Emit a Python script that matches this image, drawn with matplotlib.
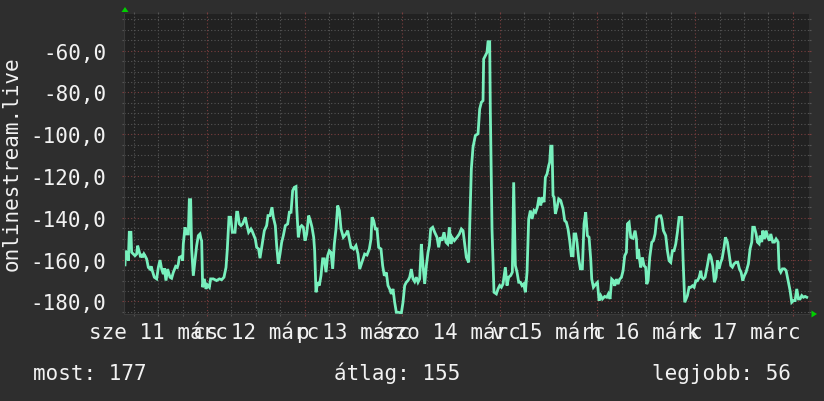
import matplotlib
matplotlib.use('Agg')
import matplotlib.pyplot as plt
from matplotlib.patches import Polygon
from matplotlib.ticker import MultipleLocator, FuncFormatter
import matplotlib.transforms as mtransforms

# colours, rrdtool dark theme
BG = '#2e2e2e'
PLOT_BG = '#212121'
GRID_MINOR = '#555555'
GRID_MAJOR = '#7a3e3e'
LINE = '#78f0bd'
TEXT = '#f2f2f2'
ARROW = '#00d000'

FONT = 'DejaVu Sans Mono'

# hours since 11 March 00:00
hours = [
    3.84, 4.0, 4.25, 4.41, 4.66, 4.9, 5.3, 5.48, 5.89, 6.3,
    6.71, 6.95, 7.28, 7.69, 7.94, 8.18, 8.51, 8.76, 9.17, 9.58,
    9.99, 10.3, 10.56, 11.05, 11.63, 12.04, 12.45, 12.86, 13.27, 13.51,
    13.92, 14.33, 14.9, 15.31, 15.72, 16.3, 16.71, 16.95, 17.2, 17.77,
    18.02, 18.18, 18.59, 19.0, 19.41, 19.66, 19.99, 20.23, 20.64, 21.05,
    21.46, 21.87, 22.28, 22.53, 22.69, 22.94, 23.35, 23.76, 24.09, 24.58,
    24.9, 25.56, 26.38, 27.04, 27.61, 28.18, 28.68, 29.0, 29.41, 29.82,
    30.23, 30.89, 31.3,
    31.54, 31.95, 32.36, 32.77, 33.43, 33.75, 34.24, 34.82, 35.06, 35.39,
    35.88, 36.21, 36.7, 37.03, 37.52, 38.1, 38.67, 39.0, 39.49, 39.98,
    40.31, 40.8, 41.13, 41.54, 41.95, 42.36, 42.77, 43.26, 43.84, 44.25,
    44.66, 45.06, 45.47, 45.88, 46.05, 46.46, 46.87, 47.28, 47.69, 48.1,
    48.51, 49.0, 49.41, 49.82, 50.23, 50.47, 50.8, 51.21, 51.62, 52.03,
    52.44, 52.85, 53.26, 53.67, 54.08, 54.49, 54.9, 55.31, 55.72, 56.13,
    56.54, 56.95, 57.52, 58.18, 58.59, 59.41,
    59.65, 60.06, 60.63, 61.13, 61.54, 61.95, 62.35, 62.76, 63.34, 63.91,
    64.32, 64.57, 64.98, 65.39, 65.8, 66.21, 66.78, 67.19, 67.6, 68.09,
    68.5, 68.91, 69.32, 69.73, 70.14, 70.55, 71.13, 71.78, 72.19, 72.6,
    73.01, 73.42, 73.83, 74.24, 74.65, 75.06, 75.47, 75.88, 76.29, 76.7,
    77.11, 77.52, 77.93, 78.34, 78.67, 79.0, 79.49, 79.98, 80.55, 80.96,
    81.37, 81.78, 82.27, 82.77, 83.17, 83.58, 83.99, 84.24, 84.81, 85.47,
    86.04, 86.54, 86.95, 87.35, 87.76, 88.34,
    88.58, 88.99, 89.4, 89.97, 90.63, 91.04, 91.45, 91.86, 92.02, 92.43,
    92.84, 93.09, 93.5, 93.66, 94.07, 94.56, 95.14, 95.55, 95.96, 96.37,
    96.78, 97.35, 97.76, 98.17, 98.66, 99.07, 99.4, 99.81, 100.22, 100.63,
    101.04, 101.45, 101.86, 102.27, 102.68, 103.09, 103.5, 103.91, 104.4, 104.81,
    105.22, 105.63, 106.04, 106.45, 106.86, 107.19, 107.6, 108.01, 108.25, 108.5,
    108.83, 109.07, 109.32, 109.65, 110.06, 110.47, 110.96, 111.53, 111.94, 112.35,
    112.76, 113.17, 113.58, 113.99, 114.24, 114.65, 114.97, 115.38, 115.79, 116.28,
    116.69, 117.1,
    117.52, 117.93, 118.34, 118.59, 119.0, 119.57, 119.98, 120.39, 120.8, 121.21,
    121.78, 122.27, 122.68, 123.09, 123.5, 123.91, 124.24, 124.65, 125.06, 125.47,
    125.88, 126.29, 126.7, 127.11, 127.36, 127.77, 128.18, 128.75, 129.24, 129.57,
    129.81, 130.06, 130.39, 130.63, 131.04, 131.45, 131.86, 132.11, 132.44, 132.85,
    133.34, 133.75, 134.16, 134.57, 135.14, 135.55, 135.8, 136.21, 136.78, 137.19,
    137.6, 138.01, 138.42, 138.83, 139.24, 139.65, 140.06, 140.72, 141.04, 141.45,
    141.78, 142.11, 142.52, 142.93, 143.34, 143.75, 144.16, 144.57, 144.98, 145.39,
    145.63, 146.04, 146.45, 147.02, 147.52, 147.92, 148.33, 148.74, 149.15, 149.48,
    149.89, 150.3, 150.63, 151.12, 151.45, 151.94, 152.35, 152.76, 153.17, 153.58,
    154.07, 154.48, 154.89, 155.3, 155.71, 156.12, 156.53, 157.1, 157.52, 157.93,
    158.17, 158.58, 158.99, 159.32, 159.73, 159.97, 160.38, 160.63, 161.04, 161.45,
    161.86, 162.27, 162.6, 163.09, 163.5, 163.91, 164.4, 164.65, 165.06, 165.47,
    165.96, 166.37, 166.7, 167.11, 167.35, 167.76, 168.17, 168.58, 168.99, 169.4,
    169.81, 170.22, 170.63, 171.04, 171.45,
]

level = [
    -162.5, -155.7, -159.7, -156.2, -160.5, -146.9, -146.9, -156.5, -157.3, -158.1,
    -157.3, -153.3, -155.7, -158.9, -157.3, -158.9, -157.3, -158.1, -159.7, -163.7,
    -164.5, -163.2, -165.3, -168.4, -169.2, -163.7, -160.2, -164.5, -166.9, -164.1,
    -170.0, -164.5, -168.4, -168.9, -166.1, -163.2, -163.7, -162.1, -158.9, -158.4,
    -160.5, -152.5, -144.5, -147.7, -147.7, -131.3, -131.3, -154.9, -167.7, -160.5,
    -153.3, -148.5, -147.7, -150.1, -150.9, -173.2, -169.2, -174.0, -172.1, -173.2,
    -169.2, -169.2, -170.0, -169.2, -169.6, -168.4, -163.7, -154.9, -139.7, -139.7,
    -146.9, -146.9, -137.3,
    -137.3, -142.9, -143.7, -142.9, -139.7, -142.9, -146.9, -145.3, -146.1, -147.7,
    -150.1, -154.1, -154.9, -159.3, -153.3, -146.1, -143.7, -138.9, -138.9, -134.9,
    -139.7, -143.7, -153.3, -162.0, -157.3, -151.7, -148.5, -143.7, -142.9, -137.3,
    -137.3, -127.0, -125.4, -125.0, -134.9, -149.3, -144.5, -143.7, -144.5, -150.9,
    -147.7, -138.9, -141.3, -144.5, -149.3, -155.7, -175.6, -170.8, -172.4, -167.6,
    -159.6, -159.6, -166.0, -158.1, -155.7, -156.5, -164.4, -152.5, -145.3, -134.1,
    -136.5, -145.3, -149.3, -147.7, -146.1, -154.1,
    -154.1, -154.9, -153.3, -157.3, -164.5, -162.1, -159.7, -157.3, -157.8, -154.9,
    -150.1, -139.7, -141.3, -145.3, -145.3, -154.1, -154.9, -162.9, -167.7, -166.1,
    -172.4, -174.0, -176.4, -174.0, -180.4, -185.2, -185.2, -185.6, -180.4, -172.4,
    -170.8, -170.0, -168.4, -164.5, -169.2, -170.5, -168.4, -170.8, -169.2, -152.5,
    -162.9, -171.6, -162.9, -156.5, -153.3, -145.3, -144.5, -146.9, -149.3, -154.1,
    -149.3, -150.9, -146.9, -151.7, -152.5, -144.5, -152.5, -149.3, -150.9, -149.3,
    -147.7, -145.3, -146.1, -152.5, -158.9, -161.3,
    -145.3, -116.6, -106.2, -100.6, -99.8, -87.9, -84.7, -83.9, -64.0, -62.4,
    -60.8, -55.7, -55.7, -88.7, -145.3, -175.6, -176.4, -174.0, -172.4, -173.2,
    -171.6, -163.6, -172.4, -168.4, -167.6, -166.0, -123.0, -162.8, -166.0, -170.8,
    -170.8, -172.4, -171.6, -175.6, -166.0, -140.5, -136.5, -140.5, -136.5, -137.3,
    -134.9, -130.1, -134.1, -130.1, -132.5, -120.6, -119.0, -115.0, -113.4, -105.7,
    -105.7, -129.3, -130.1, -138.1, -134.9, -130.9, -131.7, -135.7, -141.3, -142.1,
    -145.3, -150.9, -158.1, -158.1, -147.7, -147.7, -151.7, -159.6, -164.4, -164.4,
    -142.9, -137.3,
    -148.5, -149.3, -159.7, -169.3, -173.2, -171.7, -170.9, -179.6, -177.2, -178.8,
    -177.6, -178.0, -176.4, -178.8, -169.3, -170.1, -172.5, -169.3, -171.7, -169.3,
    -168.5, -165.3, -158.1, -156.5, -142.9, -142.1, -149.3, -149.8, -146.1, -150.1,
    -159.7, -154.9, -160.5, -163.7, -158.9, -162.9, -163.7, -171.7, -170.1, -158.9,
    -151.7, -150.9, -147.7, -139.8, -139.0, -139.0, -140.6, -146.1, -148.5, -155.7,
    -160.5, -161.3, -155.7, -155.7, -152.5, -146.9, -139.8, -139.8, -159.7, -180.4,
    -178.8, -177.2, -173.2, -173.2, -172.5, -173.2, -170.1, -170.1, -168.5, -165.3,
    -168.4, -169.2, -168.4, -162.8, -157.2, -158.8, -162.8, -170.8, -168.4, -160.4,
    -164.4, -161.2, -159.6, -154.0, -149.3, -151.6, -157.2, -162.8, -163.6, -162.0,
    -161.2, -161.2, -164.4, -166.0, -170.0, -167.6, -166.0, -162.0, -154.8, -151.6,
    -144.5, -144.5, -147.7, -151.6, -152.4, -148.5, -151.6, -146.1, -150.1, -146.1,
    -149.3, -150.9, -147.7, -151.6, -151.6, -150.1, -151.6, -164.4, -166.0, -164.4,
    -164.4, -165.2, -168.4, -172.4, -174.8, -180.4, -179.6, -179.6, -174.0, -178.8,
    -178.8, -177.2, -178.0, -177.6, -178.0,
]

day_labels = ['sze 11 márc', 'cs 12 márc', 'p 13 márc', 'szo 14 márc',
              'v 15 márc', 'h 16 márc', 'k 17 márc']
y_title = 'onlinestream.live'
summary = ['most: 177', 'átlag: 155', 'legjobb: 56']

W, H = 824, 402
fig = plt.figure(figsize=(W / 100, H / 100), dpi=100, facecolor=BG)
ax = fig.add_axes([124 / W, 1 - 315 / H, 685 / W, 300.3 / H])
ax.set_facecolor(PLOT_BG)

ax.plot(hours, level, color=LINE, lw=2.0, solid_joinstyle='miter')

ax.set_xlim(3.6, 172.0)
ax.set_ylim(-186.0, -42.3)

# grid: 6h / 1 day, 5 / 20 units
ax.xaxis.set_minor_locator(MultipleLocator(6))
ax.xaxis.set_major_locator(MultipleLocator(24))
ax.yaxis.set_minor_locator(MultipleLocator(5))
ax.yaxis.set_major_locator(MultipleLocator(20))
ax.grid(which='minor', color=GRID_MINOR, lw=0.8, linestyle=(0, (1, 2)))
ax.grid(which='major', color=GRID_MAJOR, lw=0.8, linestyle=(0, (1, 2)))
ax.set_axisbelow(True)

for s in ax.spines.values():
    s.set_visible(False)
ax.spines['left'].set_visible(True)
ax.spines['left'].set_color('#3a3a3a')
ax.spines['bottom'].set_visible(True)
ax.spines['bottom'].set_color('#3a3a3a')

ax.tick_params(which='minor', length=1.6, width=0.8, color=GRID_MINOR,
               top=True, right=True, bottom=True, left=True)
ax.tick_params(which='major', length=1.6, width=0.8, color=GRID_MAJOR,
               top=True, right=True, bottom=True, left=True)
ax.tick_params(axis='x', which='both', labelbottom=False)
ax.tick_params(axis='y', which='major', labelsize=15, labelcolor=TEXT, pad=11)
ax.yaxis.set_major_formatter(FuncFormatter(lambda v, p: f'{v:.1f}'.replace('.', ',')))
for lab in ax.get_yticklabels():
    lab.set_family(FONT)

# day labels centred on midday (rrdtool lets them overlap)
trans = mtransforms.blended_transform_factory(ax.transData, fig.transFigure)
for i, lab in enumerate(day_labels):
    ax.text(12 + 24 * i, 1 - 339 / H, lab, transform=trans, ha='center',
            va='baseline', fontsize=15, family=FONT, color=TEXT, clip_on=False)

fig.text(12 / W, 1 - 164 / H, y_title, rotation=90, ha='center', va='center',
         fontsize=15, family=FONT, color=TEXT)

fig.text(33 / W, 1 - 380 / H, summary[0], ha='left', va='baseline',
         fontsize=15, family=FONT, color=TEXT)
fig.text(334 / W, 1 - 380 / H, summary[1], ha='left', va='baseline',
         fontsize=15, family=FONT, color=TEXT)
fig.text(791 / W, 1 - 380 / H, summary[2], ha='right', va='baseline',
         fontsize=15, family=FONT, color=TEXT)

# green axis arrows
def px(x, y):
    return (x / W, 1 - y / H)

fig.patches.append(Polygon([px(121.5, 13), px(128.5, 13), px(125, 8)], closed=True,
                           transform=fig.transFigure, facecolor=ARROW, edgecolor='none'))
fig.patches.append(Polygon([px(811.5, 311.5), px(811.5, 318.5), px(817, 315)], closed=True,
                           transform=fig.transFigure, facecolor=ARROW, edgecolor='none'))

fig.savefig('out.png', dpi=100, facecolor=BG)
